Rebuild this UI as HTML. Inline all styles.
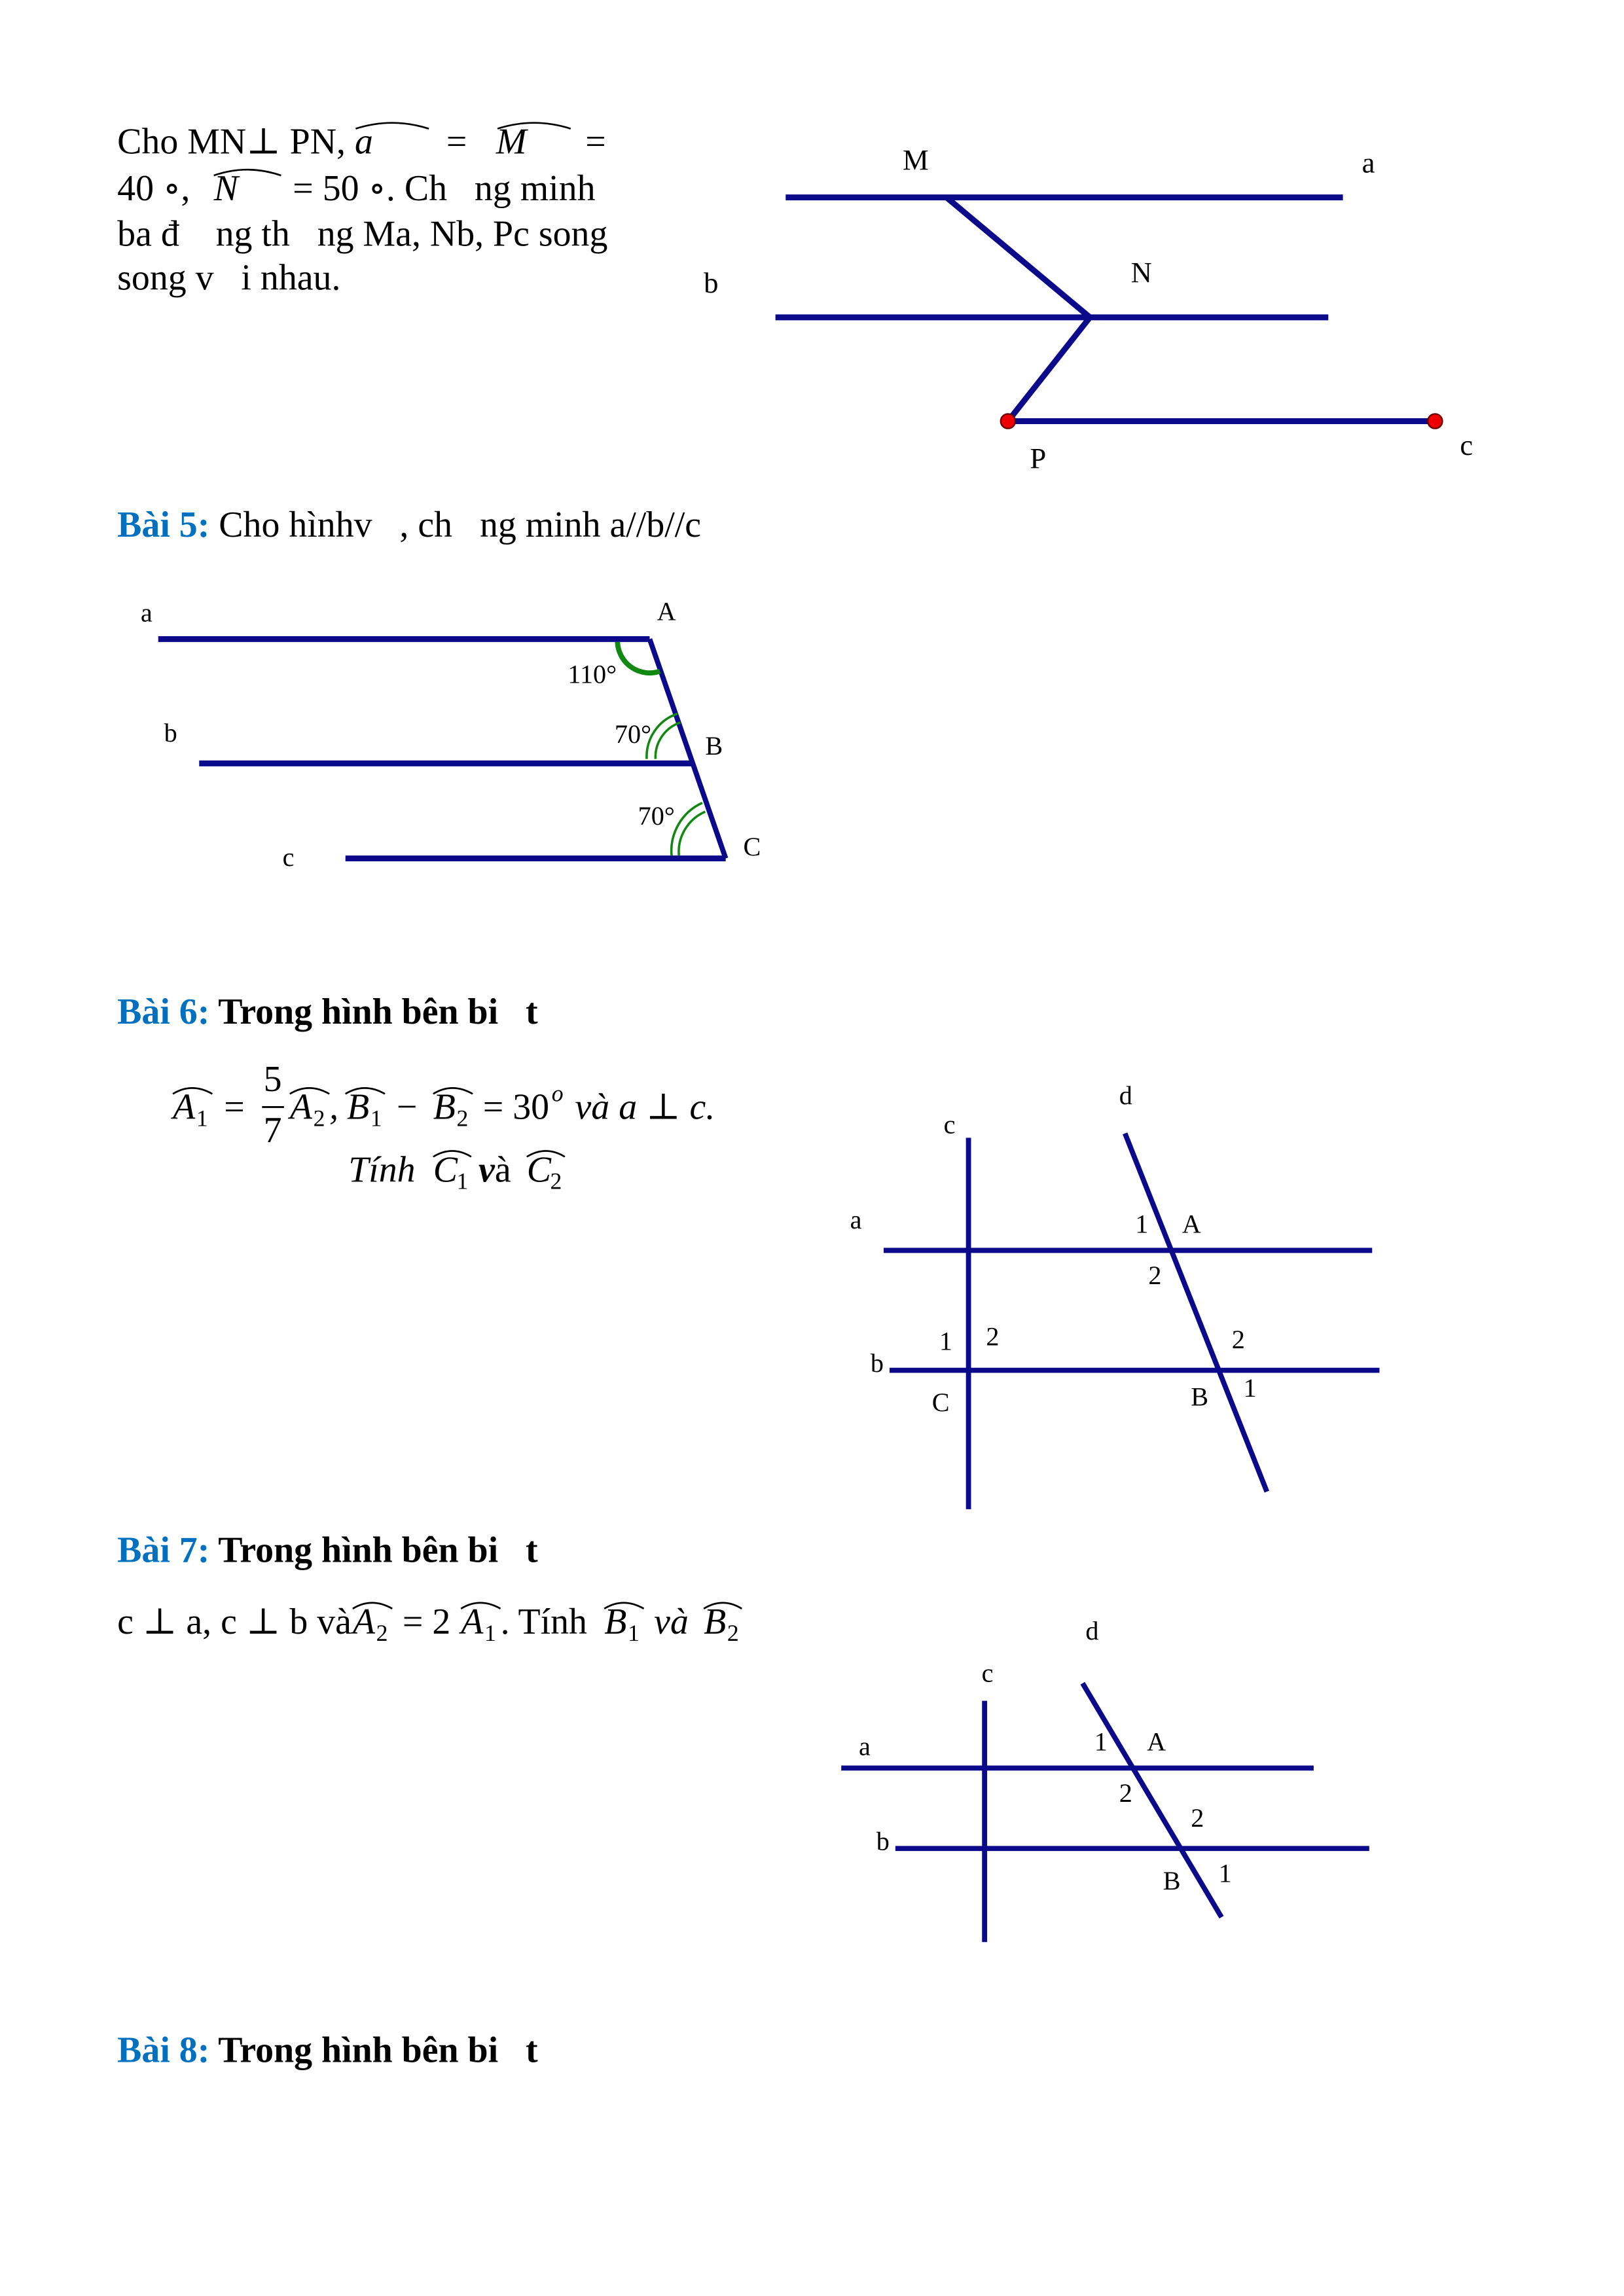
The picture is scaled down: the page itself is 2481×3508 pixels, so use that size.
<!DOCTYPE html>
<html><head><meta charset="utf-8"><style>
html,body{margin:0;padding:0;background:#fff;}
svg{display:block;}
text{font-family:"Liberation Serif","DejaVu Serif",serif;fill:#000;white-space:pre;}
.t{font-size:25px;}
.h{font-size:25px;font-weight:bold;}
.bl{fill:#0070C0;font-weight:bold;}
.l{font-size:18px;}
.ln{stroke:#0a0a8a;stroke-width:4;fill:none;}
.ln3{stroke:#0a0a8a;stroke-width:3.5;fill:none;}
.g{stroke:#118811;fill:none;}
.m{font-size:25px;font-style:italic;}
.n{font-style:normal;}
.s{font-size:16px;}
.arc{stroke:#000;stroke-width:1.2;fill:none;}
</style></head><body>
<svg width="2481" height="3508" viewBox="0 0 1110 1570" xmlns="http://www.w3.org/2000/svg" xml:space="preserve">
<text class="t" x="80" y="105">Cho MN⊥ PN, <tspan font-style="italic">a</tspan></text>
<path class="arc" d="M243 88 Q268 80 293 88"/>
<text class="t" x="305" y="105">=</text>
<text class="t" x="339" y="105" font-style="italic">M</text>
<path class="arc" d="M340 88 Q365 80 390 88"/>
<text class="t" x="400" y="105">=</text>
<text class="t" x="80" y="137">40 ∘,</text>
<text class="t" x="146" y="137" font-style="italic">N</text>
<path class="arc" d="M146 120 Q169 112 192 120"/>
<text class="t" x="200" y="137">= 50 ∘. Ch   ng minh</text>
<text class="t" x="80" y="168">ba đ    ng th   ng Ma, Nb, Pc song</text>
<text class="t" x="80" y="198">song v   i nhau.</text>

<line class="ln" x1="537" y1="135" x2="918" y2="135"/>
<line class="ln" x1="647" y1="135" x2="745" y2="217"/>
<line class="ln" x1="530" y1="217" x2="908" y2="217"/>
<line class="ln" x1="745" y1="217" x2="689" y2="288"/>
<line class="ln" x1="689" y1="288" x2="981" y2="288"/>
<circle cx="689" cy="288" r="5" fill="#e00" stroke="#600" stroke-width="1"/>
<circle cx="981" cy="288" r="5" fill="#e00" stroke="#600" stroke-width="1"/>
<text x="617" y="116" font-size="20">M</text>
<text x="931" y="118" font-size="20">a</text>
<text x="481" y="200" font-size="20">b</text>
<text x="773" y="193" font-size="20">N</text>
<text x="704" y="320" font-size="20">P</text>
<text x="998" y="311" font-size="20">c</text>

<text class="t" x="80" y="367"><tspan class="bl">Bài 5:</tspan> Cho hìnhv   , ch   ng minh a//b//c</text>
<line class="ln" x1="108" y1="437" x2="444" y2="437"/>
<line class="ln3" x1="444" y1="437" x2="496" y2="587"/>
<line class="ln" x1="136" y1="522" x2="473" y2="522"/>
<line class="ln" x1="236" y1="587" x2="496" y2="587"/>
<path class="g" stroke-width="3.5" d="M422 439 A22 22 0 0 0 451 459"/>
<path class="g" stroke-width="1.6" d="M448 519 A25 25 0 0 1 465 494"/>
<path class="g" stroke-width="1.6" d="M442 519 A31 31 0 0 1 463 488"/>
<path class="g" stroke-width="1.6" d="M464 585 A30 30 0 0 1 482 555"/>
<path class="g" stroke-width="1.6" d="M459 585 A36 36 0 0 1 480 549"/>
<text class="l" x="96" y="425">a</text>
<text class="l" x="449" y="424">A</text>
<text class="l" x="388" y="467">110°</text>
<text class="l" x="112" y="507">b</text>
<text class="l" x="420" y="508">70°</text>
<text class="l" x="482" y="516">B</text>
<text class="l" x="436" y="564">70°</text>
<text class="l" x="193" y="592">c</text>
<text class="l" x="508" y="585">C</text>

<text class="h" x="80" y="700"><tspan class="bl">Bài 6:</tspan> Trong hình bên bi   t</text>
<g class="m">
<text x="118" y="765">A</text><text class="s n" x="134" y="770">1</text>
<path class="arc" d="M118 748 Q131 740 145 748"/>
<text class="n" x="153" y="765">=</text>
<text class="n" x="180" y="746">5</text>
<line x1="179" y1="757" x2="194" y2="757" stroke="#000" stroke-width="1.3"/>
<text class="n" x="180" y="781">7</text>
<text x="198" y="765">A</text><text class="s n" x="214" y="770">2</text><text x="225" y="765">,</text>
<path class="arc" d="M198 748 Q211 740 225 748"/>
<text x="237" y="765">B</text><text class="s n" x="253" y="770">1</text>
<path class="arc" d="M236 748 Q249 740 263 748"/>
<text class="n" x="271" y="765">−</text>
<text x="296" y="765">B</text><text class="s n" x="312" y="770">2</text>
<path class="arc" d="M296 748 Q309 740 323 748"/>
<text class="n" x="330" y="765">= 30</text><text class="s" x="377" y="753">o</text>
<text x="393" y="765">và a ⊥ c.</text>
<text x="238" y="808">Tính</text>
<text x="296" y="808">C</text><text class="s n" x="312" y="813">1</text>
<path class="arc" d="M296 791 Q309 783 322 791"/>
<text x="327" y="808"><tspan font-weight="bold">v</tspan><tspan class="n">à</tspan></text>
<text x="360" y="808">C</text><text class="s n" x="376" y="813">2</text>
<path class="arc" d="M360 791 Q373 783 386 791"/>
</g>
<line class="ln3" x1="662" y1="778" x2="662" y2="1032"/>
<line class="ln3" x1="769" y1="775" x2="866" y2="1020"/>
<line class="ln3" x1="604" y1="855" x2="938" y2="855"/>
<line class="ln3" x1="608" y1="937" x2="943" y2="937"/>
<text class="l" x="645" y="775">c</text>
<text class="l" x="765" y="755">d</text>
<text class="l" x="581" y="840">a</text>
<text class="l" x="595" y="938">b</text>
<text class="l" x="776" y="843">1</text>
<text class="l" x="808" y="843">A</text>
<text class="l" x="785" y="878">2</text>
<text class="l" x="642" y="923">1</text>
<text class="l" x="674" y="920">2</text>
<text class="l" x="842" y="922">2</text>
<text class="l" x="814" y="961">B</text>
<text class="l" x="850" y="955">1</text>
<text class="l" x="637" y="965">C</text>

<text class="h" x="80" y="1068"><tspan class="bl">Bài 7:</tspan> Trong hình bên bi   t</text>
<text class="t" x="80" y="1117">c ⊥ a, c ⊥ b và</text>
<text class="m" x="241" y="1117">A</text><text class="s" x="257" y="1122">2</text>
<path class="arc" d="M241 1100 Q254 1092 268 1100"/>
<text class="t" x="275" y="1117">= 2</text>
<text class="m" x="315" y="1117">A</text><text class="s" x="331" y="1122">1</text>
<path class="arc" d="M315 1100 Q328 1092 342 1100"/>
<text class="t" x="342" y="1117">. Tính</text>
<text class="m" x="413" y="1117">B</text><text class="s" x="429" y="1122">1</text>
<path class="arc" d="M413 1100 Q426 1092 440 1100"/>
<text class="m" x="447" y="1117">và</text>
<text class="m" x="481" y="1117">B</text><text class="s" x="497" y="1122">2</text>
<path class="arc" d="M481 1100 Q494 1092 507 1100"/>
<line class="ln3" x1="673" y1="1163" x2="673" y2="1328"/>
<line class="ln3" x1="740" y1="1151" x2="835" y2="1311"/>
<line class="ln3" x1="575" y1="1209" x2="898" y2="1209"/>
<line class="ln3" x1="612" y1="1264" x2="936" y2="1264"/>
<text class="l" x="671" y="1150">c</text>
<text class="l" x="742" y="1121">d</text>
<text class="l" x="587" y="1200">a</text>
<text class="l" x="599" y="1265">b</text>
<text class="l" x="748" y="1197">1</text>
<text class="l" x="784" y="1197">A</text>
<text class="l" x="765" y="1232">2</text>
<text class="l" x="814" y="1249">2</text>
<text class="l" x="795" y="1292">B</text>
<text class="l" x="833" y="1287">1</text>

<text class="h" x="80" y="1410"><tspan class="bl">Bài 8:</tspan> Trong hình bên bi   t</text>
</svg>
</body></html>
